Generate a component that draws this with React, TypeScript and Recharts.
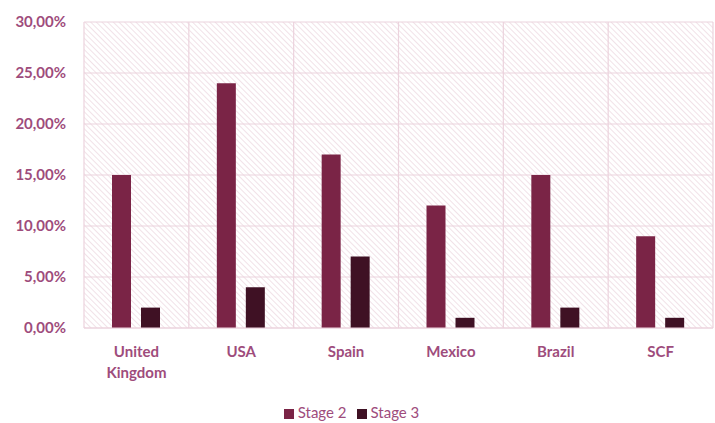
import React from 'react';
import { BarChart, Bar, XAxis, YAxis, CartesianGrid, Legend } from 'recharts';

const categories = ['United Kingdom', 'USA', 'Spain', 'Mexico', 'Brazil', 'SCF'];
const stage2 = [15, 24, 17, 12, 15, 9];
const stage3 = [2, 4, 7, 1, 2, 1];
const yTicks = [0, 5, 10, 15, 20, 25, 30];

const data = categories.map((c, i) => ({ name: c, s2: stage2[i], s3: stage3[i] }));

const LABEL = '#9e4c7c';
const FONT = 'Lato, "Open Sans", sans-serif';

const XTick = (props: any) => {
  const { x, y, payload } = props;
  const words = String(payload.value).split(' ');
  return (
    <g transform={`translate(${x},${y})`}>
      {words.map((w: string, i: number) => (
        <text key={i} x={0} y={i * 21} dy={21} textAnchor="middle" fill={LABEL}
          style={{ fontFamily: FONT, fontSize: 15, fontWeight: 700 }}>{w}</text>
      ))}
    </g>
  );
};

export default function App() {
  return (
    <div style={{ position: 'absolute', left: 0, top: 0, width: 715, height: 423, background: '#fff' }}>
      <BarChart width={715} height={423} data={data}
        margin={{ top: 22, right: 2, left: 0, bottom: 2 }}
        barGap={10} barCategoryGap={28}>
        <defs>
          <pattern id="hatch" patternUnits="userSpaceOnUse" width={4} height={4} patternTransform="rotate(-45)">
            <rect width={4} height={4} fill="#ffffff" />
            <line x1={0} y1={0} x2={0} y2={4} stroke="#ecd6df" strokeWidth={1.4} />
          </pattern>
        </defs>
        <CartesianGrid stroke="#ecd3dd" strokeWidth={1.2} fill="url(#hatch)" fillOpacity={1}
          verticalCoordinatesGenerator={({ offset }: any) =>
            categories.map((_, i) => offset.left + (i * offset.width) / categories.length).concat([offset.left + offset.width])
          } />
        <XAxis dataKey="name" tick={<XTick />} tickLine={false} axisLine={{ stroke: '#ecd3dd' }}
          interval={0} height={75} />
        <YAxis domain={[0, 30]} ticks={yTicks} width={84} tickLine={false} axisLine={false}
          tickMargin={12}
          tickFormatter={(v: number) => v.toFixed(2).replace('.', ',') + '%'}
          tick={{ fill: LABEL, fontFamily: FONT, fontSize: 15, fontWeight: 700 }} />
        <Legend verticalAlign="bottom" iconType="square" iconSize={10}
          wrapperStyle={{ fontFamily: FONT, fontSize: 15, fontWeight: 400 }}
          formatter={(value: string) => <span style={{ color: LABEL }}>{value}</span>} />
        <Bar dataKey="s2" name="Stage 2" fill="#7a2446" isAnimationActive={false} />
        <Bar dataKey="s3" name="Stage 3" fill="#3f1124" isAnimationActive={false} />
      </BarChart>
    </div>
  );
}
